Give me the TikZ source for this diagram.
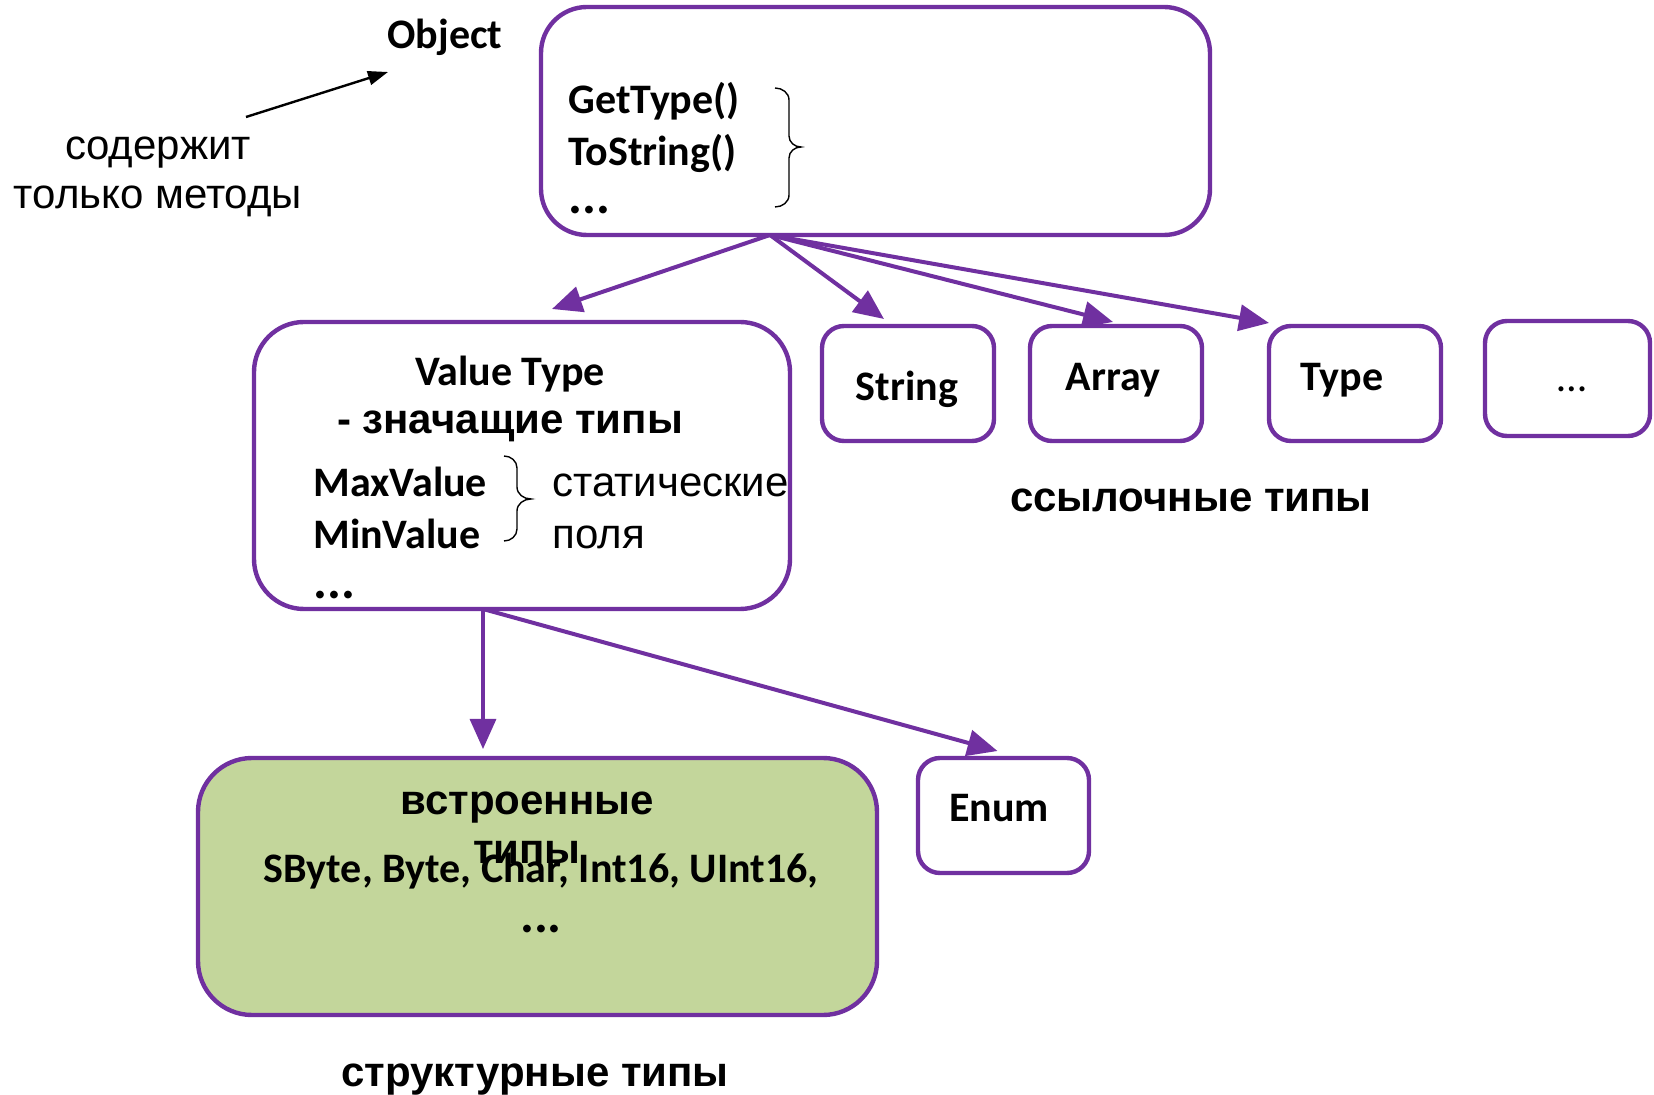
\documentclass[tikz,border=0pt]{standalone}
\usepackage{fontspec}
\setmainfont{Liberation Sans}
\newfontfamily\calfont{Carlito}
\usetikzlibrary{arrows.meta,calc}
\definecolor{vio}{HTML}{7030A0}
\definecolor{grn}{HTML}{C3D69B}
\begin{document}
\begin{tikzpicture}[x=0.5pt,y=-0.5pt,
  box/.style={draw=vio,line width=2.2pt,rounded corners=11pt,fill=white,inner sep=0pt,outer sep=0pt},
  conn/.style={draw=vio,line width=2pt,-{Triangle[length=15pt,width=13pt]}},
  cb/.style={font=\calfont\bfseries\fontsize{21}{25}\selectfont,inner sep=0pt},
  dotsty/.style={font=\calfont\bfseries\fontsize{26}{30}\selectfont,inner sep=0pt},
  ab/.style={font=\bfseries\fontsize{21}{25}\selectfont,inner sep=0pt},
  ar/.style={font=\fontsize{21}{25}\selectfont,inner sep=0pt},
  brc/.style={draw=black,line width=0.7pt},
]
\fill[white] (0,0) rectangle (1654,1095);
\useasboundingbox (0,0) rectangle (1654,1095);

% boxes
\node[box,rounded corners=23pt,minimum width=334.5pt,minimum height=114pt] (obj) at (875.5,121) {};
\node[box,rounded corners=25pt,minimum width=268pt,minimum height=143.5pt] (vt) at (522,465.5) {};
\node[box,minimum width=86pt,minimum height=57.5pt] (str) at (908,383.5) {};
\node[box,minimum width=86pt,minimum height=57.5pt] (arrn) at (1116,383.5) {};
\node[box,minimum width=86pt,minimum height=57.5pt] (typ) at (1355,383.5) {};
\node[box,minimum width=82.5pt,minimum height=57.5pt] (more) at (1567.5,378.5) {};
\node[box,rounded corners=27pt,fill=grn,minimum width=339.5pt,minimum height=128.5pt] (bi) at (537.5,886.5) {};
\node[box,minimum width=85.5pt,minimum height=57.5pt] (enm) at (1003.5,815.5) {};

% labels
\node[cb,anchor=base] (objlbl) at (445,49) {Object};
\node[ar,anchor=base] (sod1) at (158,160) {содержит};
\node[ar,anchor=base] (sod2) at (158,209) {только методы};

\node[cb,anchor=base west] (gt) at (568,114) {GetType()};
\node[cb,anchor=base west] (ts) at (568,166) {ToString()};
\node[dotsty,anchor=base west] (od) at (568,214) {...};

\node[cb,anchor=base] (vtt) at (510,386) {Value Type};
\node[ab,anchor=base] (vtz) at (510,434) {- значащие типы};
\node[cb,anchor=base west] (maxv) at (313,497) {MaxValue};
\node[cb,anchor=base west] (minv) at (313,549) {MinValue};
\node[dotsty,anchor=base west] (vdots) at (313,599) {...};
\node[ar,anchor=base west] (stat) at (552,497) {статические};
\node[ar,anchor=base west] (pol) at (552,549) {поля};

\node[cb,anchor=base] (strt) at (907,401) {String};
\node[cb,anchor=base] (arrt) at (1113,391) {Array};
\node[cb,anchor=base] (typt) at (1342,391) {Type};
\node[font=\calfont\fontsize{21}{25}\selectfont,inner sep=0pt,anchor=base] (moret) at (1572,392) {…};
\node[ab,anchor=base] (ssyl) at (1191,512) {ссылочные типы};

\node[cb,anchor=base] (enmt) at (999,821) {Enum};
\node[ab,anchor=base] (vstr) at (527,814) {встроенные};
\node[ab,anchor=base] (tipy) at (527,863) {типы};
\node[cb,anchor=base] (sbyte) at (541,882) {SByte, Byte, Char, Int16, UInt16,};
\node[dotsty,anchor=base] (bdots) at (541,932) {...};
\node[ab,anchor=base] (struk) at (535,1086) {структурные типы};

% braces
\draw[brc] (775,88) to[out=0,in=90] (789,100) -- (789,136) to[out=-90,in=180] (801,147) to[out=180,in=90] (789,158) -- (789,195) to[out=-90,in=0] (775,207);
\draw[brc] (504,456) to[out=0,in=90] (517,468) -- (517,487) to[out=-90,in=180] (531,499) to[out=180,in=90] (517,511) -- (517,529) to[out=-90,in=0] (504,541);

% black arrow
\coordinate (cst) at (246,117);
\draw[line width=1.2pt,-{Triangle[length=10pt,width=7pt]}] (cst) -- ($(objlbl.base)+(-57,23)$);

% purple connectors
\coordinate (oo) at ($(obj.south west)+(229,0)$);
\draw[conn] (oo) -- ($(vt.north)+(30,-13)$);
\draw[conn] (oo) -- ($(str.north)+(-24,-7)$);
\draw[conn] (oo) -- ($(arrn.north)+(-3,-4)$);
\draw[conn] (oo) -- ($(typ.north west)+(0,-3)$);
\coordinate (vo) at ($(vt.south west)+(229,0)$);
\draw[conn,line width=1.6pt] (vo) -- ($(vo |- bi.north)+(0,-9)$);
\draw[conn] (vo) -- ($(enm.north)+(-6,-7)$);
\end{tikzpicture}
\end{document}
